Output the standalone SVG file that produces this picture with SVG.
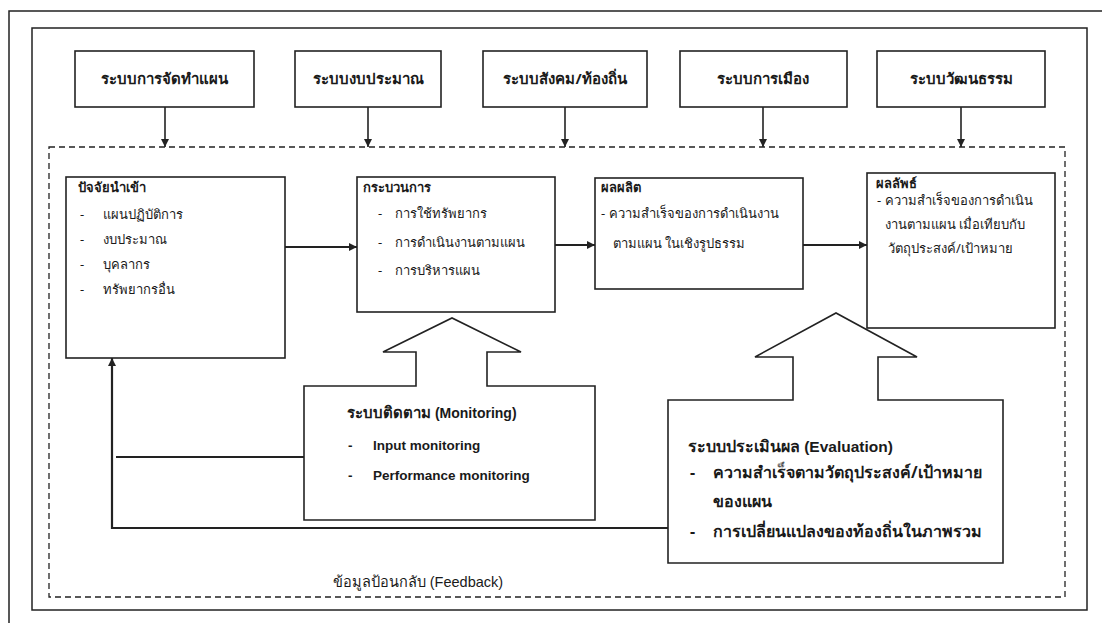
<svg xmlns="http://www.w3.org/2000/svg" width="1102" height="623" viewBox="0 0 1102 623">
  <style>
    .frame { fill: none; stroke: #222; stroke-width: 1.5; }
    .box { fill: #fff; stroke: #222; stroke-width: 1.6; }
    .dash { fill: none; stroke: #222; stroke-width: 1.3; stroke-dasharray: 6 4; }
    .line { fill: none; stroke: #222; stroke-width: 1.6; }
    .thick { fill: none; stroke: #222; stroke-width: 2.2; }
    text { font-family: "Noto Sans", "DejaVu Sans", "Liberation Sans", sans-serif; fill: #1a1a1a; }
    .head { font-size: 15px; font-weight: bold; }
    .title { font-size: 13px; font-weight: bold; }
    .item { font-size: 13px; }
    .mon { font-size: 15px; font-weight: bold; }
    .eval { font-size: 16px; font-weight: bold; }
    .eng { font-family: "Liberation Sans", Arial, sans-serif; font-size: 13.5px; font-weight: bold; }
    .eng-mon { font-family: "Liberation Sans", Arial, sans-serif; font-size: 14px; font-weight: bold; }
    .eng-eval { font-family: "Liberation Sans", Arial, sans-serif; font-size: 15.5px; font-weight: bold; }
    .note { font-size: 14.5px; }
  </style>
  <defs>
    <marker id="arr" viewBox="0 0 10 10" refX="10" refY="5" markerWidth="10" markerHeight="8" markerUnits="userSpaceOnUse" orient="auto">
      <path d="M0,0 L10,5 L0,10 z" fill="#222"/>
    </marker>
  </defs>

  <!-- page frames -->
  <g id="frames">
    <path class="frame" d="M9,623 V11 H1102"/>
    <rect class="frame" x="32" y="28" width="1055" height="582"/>
    <rect class="dash" x="49" y="147" width="1016" height="450"/>
  </g>

  <!-- connectors -->
  <g id="connectors">
    <line class="line" x1="165" y1="107" x2="165" y2="147" marker-end="url(#arr)"/>
    <line class="line" x1="368" y1="107" x2="368" y2="147" marker-end="url(#arr)"/>
    <line class="line" x1="565" y1="107" x2="565" y2="147" marker-end="url(#arr)"/>
    <line class="line" x1="763" y1="107" x2="763" y2="147" marker-end="url(#arr)"/>
    <line class="line" x1="961" y1="107" x2="961" y2="147" marker-end="url(#arr)"/>
    <line class="thick" x1="285" y1="247" x2="357" y2="247" marker-end="url(#arr)"/>
    <line class="thick" x1="555" y1="245" x2="595" y2="245" marker-end="url(#arr)"/>
    <line class="thick" x1="803" y1="245" x2="867" y2="245" marker-end="url(#arr)"/>
    <line class="thick" x1="304" y1="457" x2="116" y2="457"/>
    <polyline class="thick" points="668,528 112,528 112,358" marker-end="url(#arr)"/>
  </g>

  <!-- external systems -->
  <g id="sys-plan">
    <rect class="box" x="75" y="51" width="179" height="56"/>
    <text class="head" x="164" y="84" text-anchor="middle">ระบบการจัดทำแผน</text>
  </g>
  <g id="sys-budget">
    <rect class="box" x="295" y="51" width="146" height="56"/>
    <text class="head" x="368" y="84" text-anchor="middle">ระบบงบประมาณ</text>
  </g>
  <g id="sys-society">
    <rect class="box" x="483" y="51" width="164" height="56"/>
    <text class="head" x="565" y="84" text-anchor="middle">ระบบสังคม/ท้องถิ่น</text>
  </g>
  <g id="sys-politics">
    <rect class="box" x="680" y="51" width="167" height="56"/>
    <text class="head" x="763" y="84" text-anchor="middle">ระบบการเมือง</text>
  </g>
  <g id="sys-culture">
    <rect class="box" x="877" y="51" width="168" height="56"/>
    <text class="head" x="961" y="84" text-anchor="middle">ระบบวัฒนธรรม</text>
  </g>

  <!-- input -->
  <g id="input">
    <rect class="box" x="66" y="177" width="219" height="181"/>
    <text class="title" x="78" y="192">ปัจจัยนำเข้า</text>
    <text class="item" x="80" y="219">-</text>
    <text class="item" x="103" y="219">แผนปฏิบัติการ</text>
    <text class="item" x="80" y="244">-</text>
    <text class="item" x="103" y="244">งบประมาณ</text>
    <text class="item" x="80" y="269">-</text>
    <text class="item" x="103" y="269">บุคลากร</text>
    <text class="item" x="80" y="294">-</text>
    <text class="item" x="103" y="294">ทรัพยากรอื่น</text>
  </g>

  <!-- process -->
  <g id="process">
    <rect class="box" x="357" y="177" width="198" height="135"/>
    <text class="title" x="363" y="192">กระบวนการ</text>
    <text class="item" x="378" y="218">-</text>
    <text class="item" x="395" y="218">การใช้ทรัพยากร</text>
    <text class="item" x="378" y="247">-</text>
    <text class="item" x="395" y="247">การดำเนินงานตามแผน</text>
    <text class="item" x="378" y="275">-</text>
    <text class="item" x="395" y="275">การบริหารแผน</text>
  </g>

  <!-- output -->
  <g id="output">
    <rect class="box" x="595" y="178" width="208" height="111"/>
    <text class="title" x="601" y="192">ผลผลิต</text>
    <text class="item" x="601" y="218">- ความสำเร็จของการดำเนินงาน</text>
    <text class="item" x="613" y="248">ตามแผน ในเชิงรูปธรรม</text>
  </g>

  <!-- outcome -->
  <g id="outcome">
    <rect class="box" x="867" y="173" width="188" height="155"/>
    <text class="title" x="876" y="188">ผลลัพธ์</text>
    <text class="item" x="877" y="205">- ความสำเร็จของการดำเนิน</text>
    <text class="item" x="885" y="229">งานตามแผน เมื่อเทียบกับ</text>
    <text class="item" x="888" y="253">วัตถุประสงค์/เป้าหมาย</text>
  </g>

  <!-- monitoring: block arrow pointing up into the process box -->
  <g id="monitoring">
    <path class="box" d="M304,386 H416 V352 H383 L452,318 L521,352 H487 V386 H595 V520 H304 Z"/>
    <text class="mon" x="347" y="418">ระบบติดตาม <tspan class="eng-mon">(Monitoring)</tspan></text>
    <text class="eng" x="348" y="450">-</text>
    <text class="eng" x="373" y="450">Input monitoring</text>
    <text class="eng" x="348" y="480">-</text>
    <text class="eng" x="373" y="480">Performance monitoring</text>
  </g>

  <!-- evaluation: block arrow pointing up into the outcome box -->
  <g id="evaluation">
    <path class="box" d="M668,400 H793 V357 H755 L836,313 L917,357 H878 V400 H1003 V563 H668 Z"/>
    <text class="eval" x="688" y="452">ระบบประเมินผล <tspan class="eng-eval">(Evaluation)</tspan></text>
    <text class="eval" x="690" y="478">-</text>
    <text class="eval" x="713" y="478">ความสำเร็จตามวัตถุประสงค์/เป้าหมาย</text>
    <text class="eval" x="713" y="507">ของแผน</text>
    <text class="eval" x="690" y="537">-</text>
    <text class="eval" x="713" y="537">การเปลี่ยนแปลงของท้องถิ่นในภาพรวม</text>
  </g>

  <!-- feedback label -->
  <g id="feedback-label">
    <text class="note" x="333" y="587">ข้อมูลป้อนกลับ <tspan font-family="Liberation Sans, Arial, sans-serif">(Feedback)</tspan></text>
  </g>
</svg>
